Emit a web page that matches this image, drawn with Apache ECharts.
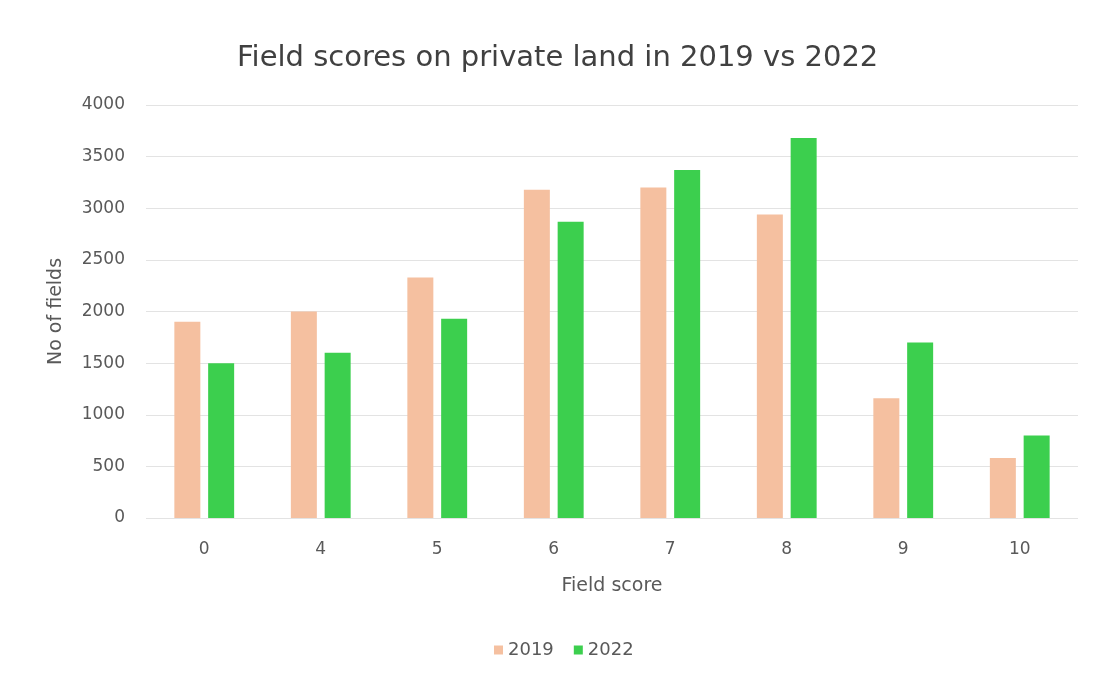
<!DOCTYPE html>
<html>
<head>
<meta charset="utf-8">
<script src="https://cdn.jsdelivr.net/npm/echarts@6/dist/echarts.min.js"></script>
<style>
  html, body { margin: 0; padding: 0; background: #ffffff; }
  #chart { width: 1099px; height: 674px; }
</style>
</head>
<body>
<div id="chart"></div>
<script>
// Field score categories and number of fields per score
const categories = ['0', '4', '5', '6', '7', '8', '9', '10'];
const fields2019 = [1900, 2000, 2330, 3180, 3200, 2940, 1160, 580];
const fields2022 = [1500, 1600, 1930, 2870, 3370, 3680, 1700, 800];
const seriesNames = ['2019', '2022'];

const textColor = '#595959';
const fontFamily = '"DejaVu Sans", sans-serif';

const chart = echarts.init(document.getElementById('chart'));
chart.setOption({
  backgroundColor: '#ffffff',
  title: {
    text: 'Field scores on private land in 2019 vs 2022',
    left: 232,
    top: 39,
    textStyle: { fontFamily: fontFamily, fontSize: 29, fontWeight: 'normal', color: '#404040' }
  },
  legend: {
    data: seriesNames,
    bottom: 10,
    left: 489,
    itemWidth: 9,
    itemHeight: 9,
    itemGap: 20,
    icon: 'rect',
    textStyle: { fontFamily: fontFamily, fontSize: 18, color: textColor }
  },
  grid: { left: 146, right: 21, top: 105, bottom: 156 },
  xAxis: {
    type: 'category',
    data: categories,
    name: 'Field score',
    nameLocation: 'middle',
    nameGap: 59,
    nameTextStyle: { fontFamily: fontFamily, fontSize: 19, color: textColor },
    axisLine: { show: false },
    axisTick: { show: false },
    axisLabel: { fontFamily: fontFamily, fontSize: 17, color: textColor, margin: 23 }
  },
  yAxis: {
    type: 'value',
    min: 0,
    max: 4000,
    interval: 500,
    name: 'No of fields',
    nameLocation: 'middle',
    nameGap: 80,
    nameTextStyle: { fontFamily: fontFamily, fontSize: 19, color: textColor },
    axisLine: { show: false },
    axisTick: { show: false },
    axisLabel: {
      fontFamily: fontFamily, fontSize: 17, color: textColor, margin: 21,
      formatter: function (v) { return String(v); }
    },
    splitLine: { lineStyle: { color: '#e3e3e3', width: 1 } }
  },
  series: [
    {
      name: seriesNames[0],
      type: 'bar',
      data: fields2019,
      barWidth: 26,
      barGap: '30%',
      itemStyle: { color: '#f5c0a0' }
    },
    {
      name: seriesNames[1],
      type: 'bar',
      data: fields2022,
      barWidth: 26,
      barGap: '30%',
      itemStyle: { color: '#3ccf4e' }
    }
  ]
});
</script>
</body>
</html>
